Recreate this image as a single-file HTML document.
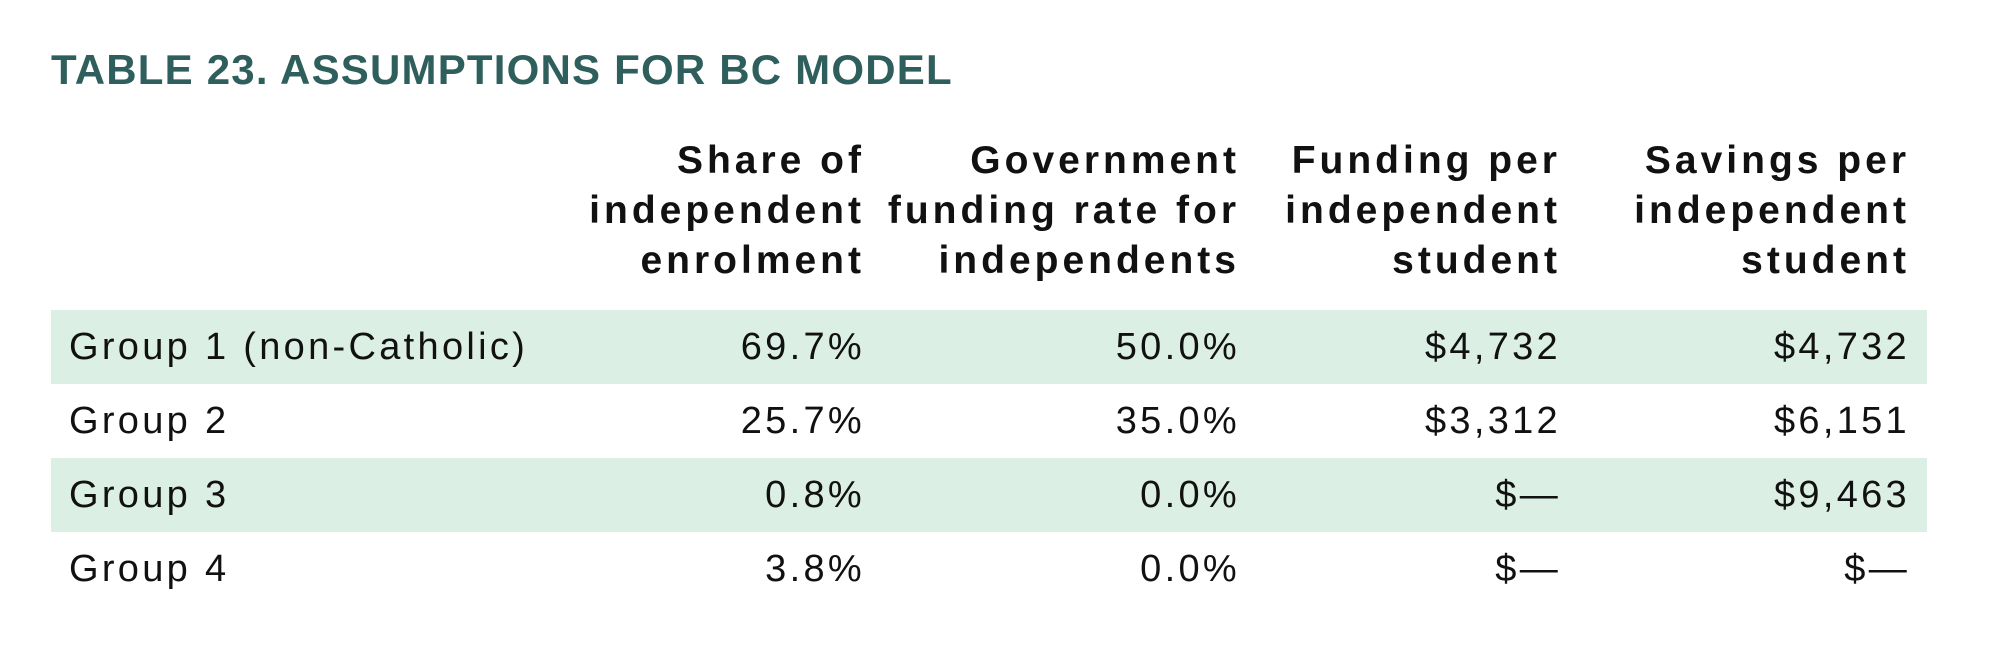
<!DOCTYPE html>
<html><head><style>
body{margin:0;width:1991px;height:645px;background:#fff;font-family:"Liberation Sans",sans-serif;color:#111;position:relative;overflow:hidden}
.t{position:absolute;left:51px;top:46px;font-size:42px;font-weight:bold;color:#2f5f5c;letter-spacing:1.2px}
.h{position:absolute;top:136px;font-size:39px;font-weight:bold;line-height:50px;text-align:right;letter-spacing:4px}
.band{position:absolute;left:51px;width:1876px;height:74px;background:#dcefe5}
.r{position:absolute;font-size:38px;line-height:74px;height:74px;letter-spacing:3.3px}
.c{text-align:right}
</style></head><body>
<div class="t">TABLE 23. ASSUMPTIONS FOR BC MODEL</div>
<div class="h" style="right:1126px">Share of<br>independent<br>enrolment</div>
<div class="h" style="right:751px">Government<br>funding rate for<br>independents</div>
<div class="h" style="right:430px">Funding per<br>independent<br>student</div>
<div class="h" style="right:81px">Savings per<br>independent<br>student</div>
<div class="band" style="top:310px"></div>
<div class="band" style="top:458px"></div>
<div class="r" style="top:310px;left:69px">Group 1 (non-Catholic)</div>
<div class="r" style="top:384px;left:69px">Group 2</div>
<div class="r" style="top:458px;left:69px">Group 3</div>
<div class="r" style="top:532px;left:69px">Group 4</div>
<div class="r c" style="top:310px;right:1126px">69.7%</div>
<div class="r c" style="top:384px;right:1126px">25.7%</div>
<div class="r c" style="top:458px;right:1126px">0.8%</div>
<div class="r c" style="top:532px;right:1126px">3.8%</div>
<div class="r c" style="top:310px;right:751px">50.0%</div>
<div class="r c" style="top:384px;right:751px">35.0%</div>
<div class="r c" style="top:458px;right:751px">0.0%</div>
<div class="r c" style="top:532px;right:751px">0.0%</div>
<div class="r c" style="top:310px;right:430px">$4,732</div>
<div class="r c" style="top:384px;right:430px">$3,312</div>
<div class="r c" style="top:458px;right:430px">$—</div>
<div class="r c" style="top:532px;right:430px">$—</div>
<div class="r c" style="top:310px;right:81px">$4,732</div>
<div class="r c" style="top:384px;right:81px">$6,151</div>
<div class="r c" style="top:458px;right:81px">$9,463</div>
<div class="r c" style="top:532px;right:81px">$—</div>
</body></html>
